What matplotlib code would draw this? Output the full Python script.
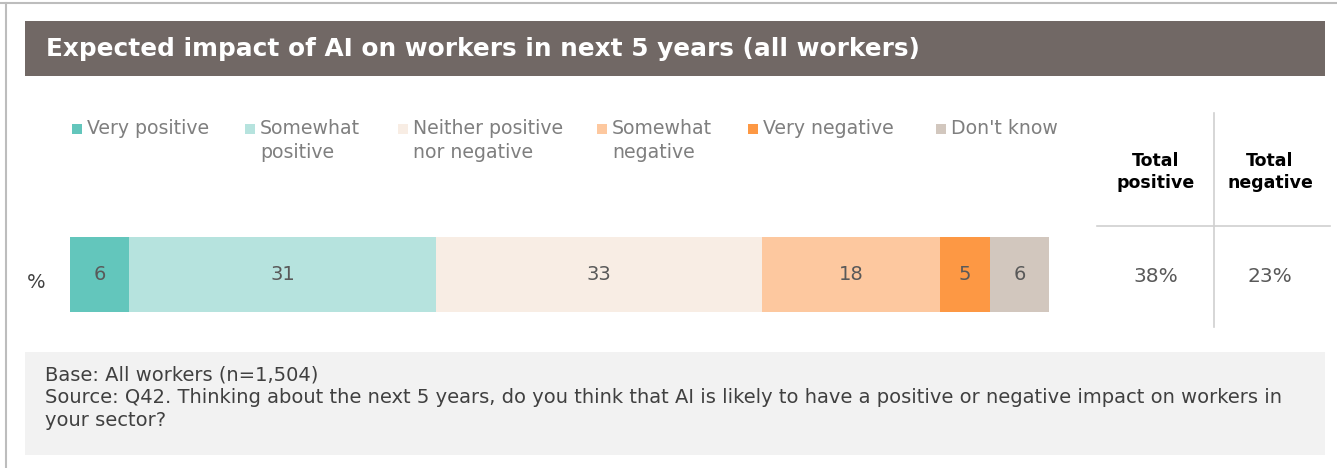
import matplotlib
matplotlib.use("Agg")
import matplotlib.pyplot as plt
from matplotlib.patches import Rectangle
from matplotlib.lines import Line2D

W, H = 1337, 468

categories = ["Very positive", "Somewhat\npositive", "Neither positive\nnor negative",
              "Somewhat\nnegative", "Very negative", "Don't know"]
values = [6, 31, 33, 18, 5, 6]
colors = ["#63C6BC", "#B6E3DE", "#F8EDE4", "#FDC89F", "#FD9844", "#D2C7BE"]
row_label = "%"

total_headers = ["Total\npositive", "Total\nnegative"]
total_values = [38, 23]

title = "Expected impact of AI on workers in next 5 years (all workers)"
footer = ["Base: All workers (n=1,504)",
          "Source: Q42. Thinking about the next 5 years, do you think that AI is likely to have a positive or negative impact on workers in",
          "your sector?"]

plt.rcParams['font.family'] = ['DejaVu Sans']


def fx(px):
    return px / W


def fy(py):
    return 1 - py / H


fig = plt.figure(figsize=(W / 100, H / 100), dpi=100)
fig.patch.set_facecolor("white")

# frame lines
fig.add_artist(Line2D([0, 1], [fy(3), fy(3)], color="#BDBDBD", lw=1.5))
fig.add_artist(Line2D([fx(6), fx(6)], [fy(3), 0], color="#BDBDBD", lw=1.5))

# title band
fig.add_artist(Rectangle((fx(25), fy(76)), fx(1325) - fx(25), fy(21) - fy(76),
                         facecolor="#716865", edgecolor="none"))
fig.text(fx(46), fy(49), title, color="white", fontsize=17.8, fontweight="bold",
         va="center", ha="left")

# legend
leg_x = [72, 245, 398, 597, 748, 936]
for lx, lab, col in zip(leg_x, categories, colors):
    fig.add_artist(Rectangle((fx(lx), fy(134)), fx(10), fy(0) - fy(10),
                             facecolor=col, edgecolor="none"))
    fig.text(fx(lx + 15), fy(119), lab, color="#7F7F7F", fontsize=13.6,
             va="top", ha="left", linespacing=1.35)

# stacked bar
ax = fig.add_axes([fx(70), fy(312), fx(1049) - fx(70), fy(237) - fy(312)])
left = 0
for v, col in zip(values, colors):
    ax.barh(0, v, left=left, height=1, color=col, edgecolor="none")
    ax.text(left + v / 2, 0, str(v), ha="center", va="center",
            fontsize=14, color="#595959")
    left += v
ax.set_xlim(0, sum(values))
ax.set_ylim(-0.5, 0.5)
ax.axis("off")
fig.text(fx(36), fy(283), row_label, ha="center", va="center",
         fontsize=14, color="#404040")

# totals table
fig.add_artist(Line2D([fx(1214), fx(1214)], [fy(113), fy(327)], color="#D0D0D0", lw=1.2))
fig.add_artist(Line2D([fx(1097), fx(1330)], [fy(226), fy(226)], color="#D0D0D0", lw=1.2))
col_x = [1156, 1270]
for cx, hd, tv in zip(col_x, total_headers, total_values):
    fig.text(fx(cx), fy(172), hd, ha="center", va="center", fontsize=12.5,
             fontweight="bold", color="black", linespacing=1.35)
    fig.text(fx(cx), fy(277), f"{tv}%", ha="center", va="center",
             fontsize=14.5, color="#595959")

# footer note
fig.add_artist(Rectangle((fx(25), fy(455)), fx(1325) - fx(25), fy(352) - fy(455),
                         facecolor="#F2F2F2", edgecolor="none"))
for i, line in enumerate(footer):
    fig.text(fx(45), fy(375 + 22.5 * i), line, ha="left", va="center",
             fontsize=14, color="#404040")

fig.savefig("out.png", dpi=100)
